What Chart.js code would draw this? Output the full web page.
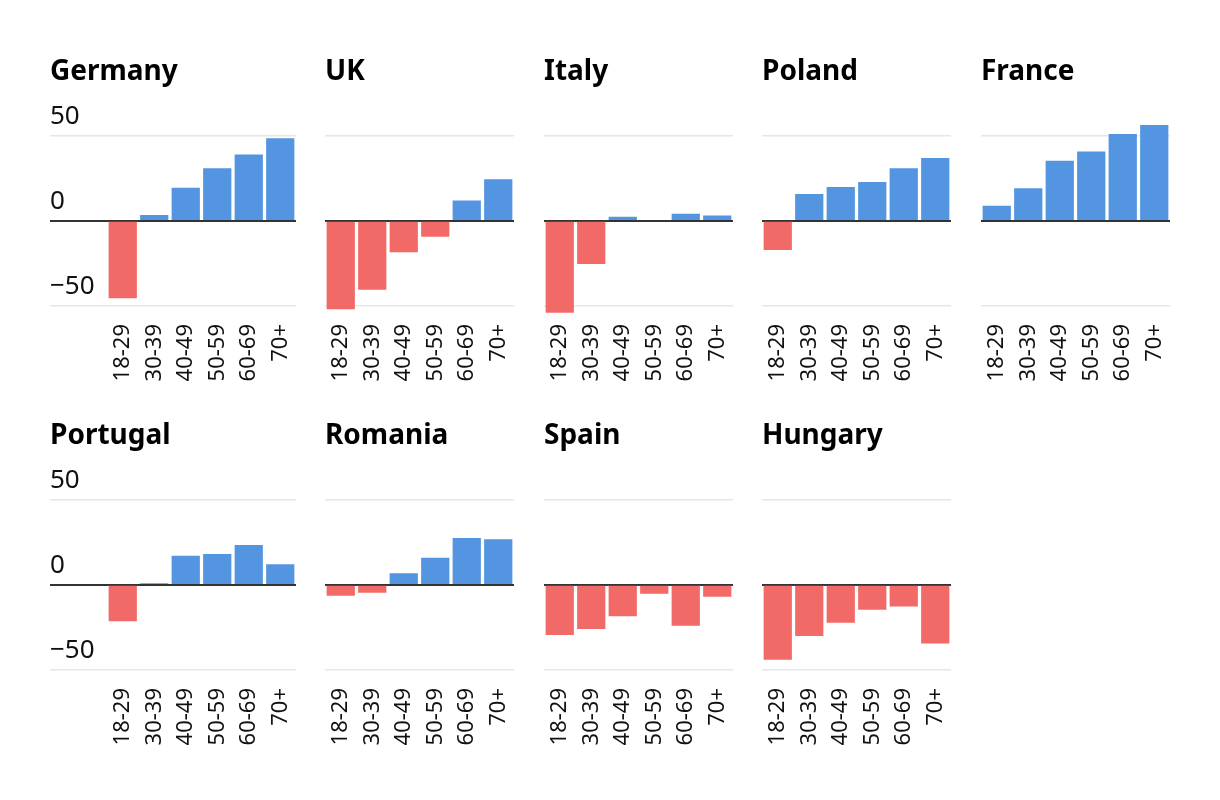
<!DOCTYPE html>
<html>
<head>
<meta charset="utf-8">
<script src="https://cdn.jsdelivr.net/npm/chart.js@4.4.0/dist/chart.umd.min.js"></script>
<style>
  body { margin: 0; background: #fff; width: 1220px; height: 800px; position: relative; overflow: hidden; }
  .panel { position: absolute; }
</style>
</head>
<body>
<script>
// age groups on the x axis, same for every country
const ageGroups = ['18-29', '30-39', '40-49', '50-59', '60-69', '70+'];
const yTicks = [-50, 0, 50];

// values
const germany  = [-46, 4, 20, 31.5, 39.5, 49];
const uk       = [-52.5, -41, -19, -10, 12.5, 25];
const italy    = [-54.5, -26, 3, 0, 4.7, 3.7];
const poland   = [-17.7, 16.3, 20.5, 23.4, 31.5, 37.4];
const france   = [9.4, 19.7, 35.8, 41.3, 51.6, 56.9];
const portugal = [-22, 1.4, 17.7, 18.7, 23.9, 12.7];
const romania  = [-7, -5.2, 7.4, 16.5, 28.1, 27.3];
const spain    = [-30, -26.5, -19, -5.8, -24.7, -7.6];
const hungary  = [-44.6, -30.7, -22.9, -15.3, -13.3, -35.1];

const panels = [
  ['Germany', germany], ['UK', uk], ['Italy', italy], ['Poland', poland], ['France', france],
  ['Portugal', portugal], ['Romania', romania], ['Spain', spain], ['Hungary', hungary]
];

const blue = '#5495e1';
const red = '#f26a67';
const colLeft = [50, 325, 544, 762, 981];
const rowTop = [55, 419];
const axisWidth = 57;

Chart.defaults.font.family = "'Noto Sans', sans-serif";

const lineColor = ctx => ctx.tick && ctx.tick.value === 0 ? '#333' : '#e6e6e6';

panels.forEach(([name, values], i) => {
  const row = Math.floor(i / 5);
  const col = i % 5;
  const first = col === 0;

  const div = document.createElement('div');
  div.className = 'panel';
  div.style.left = colLeft[col] + 'px';
  div.style.top = rowTop[row] + 'px';
  div.style.width = (first ? axisWidth + 189 : 189) + 'px';
  div.style.height = '338px';
  const canvas = document.createElement('canvas');
  div.appendChild(canvas);
  document.body.appendChild(div);

  new Chart(canvas, {
    type: 'bar',
    data: {
      labels: ageGroups,
      datasets: [{
        data: values,
        backgroundColor: values.map(v => v >= 0 ? blue : red),
        borderColor: 'rgba(255,255,255,0.35)',
        borderWidth: 1,
        barPercentage: 0.96,
        categoryPercentage: 1
      }]
    },
    options: {
      responsive: true,
      maintainAspectRatio: false,
      animation: false,
      layout: { padding: 0 },
      plugins: {
        legend: { display: false },
        tooltip: { enabled: false },
        title: {
          display: true,
          text: name,
          align: 'start',
          color: '#000',
          font: { size: 28, weight: 'bold' },
          padding: { top: 0, bottom: 30 }
        }
      },
      scales: {
        x: {
          grid: { display: false, drawTicks: false },
          border: { display: false },
          ticks: { color: '#111', font: { size: 22 }, minRotation: 90, maxRotation: 90, padding: 1, autoSkip: false },
          afterFit: a => {
            a.height = 70;
            // rotated labels otherwise shrink the plot on the sides
            a.paddingLeft = 0;
            a.paddingRight = 0;
          }
        },
        y: {
          weight: 1,
          min: -60,
          max: 60,
          afterBuildTicks: a => { a.ticks = yTicks.map(v => ({ value: v })); },
          afterFit: a => { a.width = first ? axisWidth : 0; },
          border: { display: false },
          grid: { color: lineColor, tickColor: lineColor, lineWidth: 1.5, drawTicks: first, tickLength: axisWidth },
          ticks: {
            display: first,
            crossAlign: 'far',
            labelOffset: -19,
            padding: 0,
            color: '#111',
            font: { size: 26 },
            callback: v => v < 0 ? '\u2212' + Math.abs(v) : String(v)
          }
        },
        // zero line drawn over the bars
        y2: {
          type: 'linear',
          position: 'left',
          weight: 0,
          z: 1,
          min: -60,
          max: 60,
          afterBuildTicks: a => { a.ticks = [{ value: 0 }]; },
          afterFit: a => { a.width = 0; },
          border: { display: false },
          grid: { color: '#333', tickColor: '#333', lineWidth: 2, drawTicks: first, tickLength: axisWidth },
          ticks: { display: false }
        }
      }
    }
  });
});
</script>
</body>
</html>
